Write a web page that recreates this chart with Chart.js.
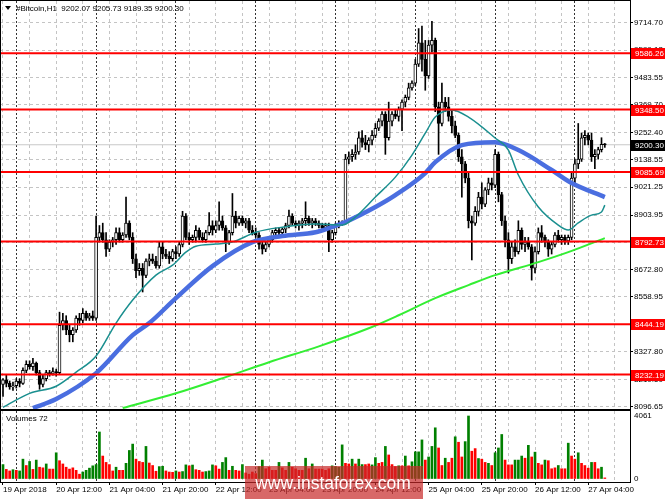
<!DOCTYPE html>
<html>
<head>
<meta charset="utf-8">
<script src="https://cdn.jsdelivr.net/npm/chart.js@4.4.0/dist/chart.umd.min.js"></script>
<style>
  html, body { margin: 0; padding: 0; background: #fff; }
  #wrap { position: relative; width: 665px; height: 499px; overflow: hidden; }
  canvas { position: absolute; left: 0; }
  #main { top: 0; }
  #vol { top: 410px; }
</style>
</head>
<body>
<div id="wrap">
  <canvas id="main" width="665" height="410"></canvas>
  <canvas id="vol" width="665" height="89"></canvas>
</div>
<script>
// H1 candles, 19 Apr 20:00 -> 27 Apr 09:00
const opens = [
  8190,8210,8195,8180,8185,8205,8195,8250,8275,8265, 8280,8240,8190,8215,8240,8235,8245,8240,8440,8460,
  8420,8400,8420,8470,8460,8490,8470,8480,8470,8810, 8830,8800,8760,8790,8800,8830,8800,8820,8870,8810,
  8720,8670,8680,8650,8710,8720,8710,8690,8770,8740, 8730,8720,8750,8740,8780,8900,8810,8800,8810,8840,
  8810,8800,8830,8860,8840,8860,8880,8850,8790,8830, 8900,8870,8890,8870,8880,8840,8830,8820,8780,8760,
  8780,8800,8830,8840,8830,8845,8860,8900,8870,8860, 8870,8880,8890,8870,8880,8870,8860,8850,8860,8800,
  8830,8860,8870,8875,9140,9150,9160,9170,9230,9210, 9200,9220,9240,9270,9300,9330,9230,9300,9330,9320,
  9350,9380,9400,9440,9460,9540,9630,9560,9490,9620, 9640,9360,9290,9380,9360,9320,9280,9240,9150,9120,
  9060,8880,8870,8920,8980,8950,9010,9040,9030,9160, 8990,8880,8800,8720,8770,8750,8840,8780,8790,8770,
  8680,8750,8830,8810,8790,8760,8780,8820,8800,8810, 8795,8810,9060,9120,9140,9230,9240,9220,9150,9160,
  9180,9202.07
];
const highs = [
  8215,8230,8205,8200,8215,8215,8260,8290,8290,8300, 8285,8250,8230,8250,8250,8260,8255,8495,8490,8480,
  8440,8430,8480,8490,8510,8500,8490,8500,8900,8860, 8870,8830,8800,8810,8850,8850,8830,8980,8880,8830,
  8740,8700,8700,8720,8740,8740,8730,8790,8790,8760, 8750,8760,8770,8790,8920,8910,8830,8820,8860,8850,
  8830,8840,8915,8880,8880,8960,8900,8860,8840,8995, 8920,8900,8900,8890,8890,8860,8850,8830,8800,8790,
  8810,8840,8850,8850,8850,8870,8925,8910,8880,8880, 8890,8960,8900,8890,8890,8880,8870,8870,8870,8840,
  8870,8880,8880,9160,9170,9180,9200,9255,9260,9240, 9230,9260,9290,9310,9340,9340,9380,9340,9350,9360,
  9390,9410,9460,9470,9560,9690,9700,9640,9640,9720, 9650,9380,9460,9400,9400,9350,9300,9250,9180,9130,
  9080,8900,8940,9000,9040,9020,9060,9060,9180,9170, 9000,8900,8830,8790,8800,8880,8850,8810,8810,8780,
  8770,8850,8860,8820,8800,8790,8830,8840,8820,8820, 8820,9080,9140,9290,9250,9260,9250,9250,9180,9190,
  9230,9205.73
];
const lows = [
  8140,8180,8170,8165,8175,8180,8190,8240,8255,8250, 8230,8170,8180,8205,8225,8230,8225,8235,8420,8400,
  8370,8370,8410,8440,8450,8460,8460,8460,8460,8790, 8790,8730,8750,8770,8780,8790,8790,8810,8800,8700,
  8640,8650,8580,8640,8690,8700,8680,8680,8720,8720, 8700,8710,8720,8730,8770,8800,8780,8790,8790,8800,
  8790,8790,8820,8820,8830,8840,8840,8750,8780,8820, 8850,8860,8860,8850,8830,8820,8810,8760,8740,8750,
  8770,8790,8820,8820,8820,8830,8850,8860,8850,8840, 8850,8860,8860,8850,8860,8850,8840,8840,8750,8790,
  8820,8850,8860,8865,9120,9130,9140,9160,9190,9180, 9170,9200,9230,9260,9280,9160,9220,9280,9310,9300,
  9260,9360,9390,9430,9450,9530,9510,9430,9480,9590, 9340,9160,9280,9340,9300,9250,9230,9130,8980,9040,
  8850,8715,8860,8900,8930,8940,8990,9010,9020,8960, 8860,8770,8660,8700,8730,8740,8760,8750,8760,8630,
  8660,8740,8790,8770,8730,8740,8770,8790,8780,8780, 8780,8800,9040,9100,9130,9200,9200,9130,9100,9140,
  9170,9189.35
];
const closes = [
  8210,8195,8180,8185,8205,8195,8250,8275,8265,8280, 8240,8190,8215,8240,8235,8245,8240,8440,8460,8420,
  8400,8420,8470,8460,8490,8470,8480,8470,8810,8830, 8800,8760,8790,8800,8830,8800,8820,8870,8810,8720,
  8670,8680,8650,8710,8720,8710,8690,8770,8740,8730, 8720,8750,8740,8780,8900,8810,8800,8810,8840,8810,
  8800,8830,8860,8840,8860,8880,8850,8790,8830,8900, 8870,8890,8870,8880,8840,8830,8820,8780,8760,8780,
  8800,8830,8840,8830,8845,8860,8900,8870,8860,8870, 8880,8890,8870,8880,8870,8860,8850,8860,8800,8830,
  8860,8870,8875,9140,9150,9160,9170,9230,9210,9200, 9220,9240,9270,9300,9330,9230,9300,9330,9320,9350,
  9380,9400,9440,9460,9540,9630,9560,9490,9620,9640, 9360,9290,9380,9360,9320,9280,9240,9150,9120,9060,
  8880,8870,8920,8980,8950,9010,9040,9030,9160,8990, 8880,8800,8720,8770,8750,8840,8780,8790,8770,8680,
  8750,8830,8810,8790,8760,8780,8820,8800,8810,8795, 8810,9060,9120,9140,9230,9240,9220,9150,9160,9180,
  9202.07,9200.30
];
const volumes = [
  930,620,520,600,560,520,1280,870,1130,620, 1220,760,720,970,640,640,1690,1180,970,760,
  640,720,560,310,450,560,700,850,930,3030, 1480,1070,930,520,760,560,560,1010,1840,2250,
  1280,1130,1070,2100,1030,870,500,800,820,520, 450,430,520,450,480,910,850,900,600,560,
  450,480,520,910,850,640,1070,1380,560,820, 560,520,930,390,310,450,350,800,1220,660,
  760,560,560,1070,720,560,1070,760,660,560, 560,1340,660,970,640,640,640,560,660,850,
  800,760,2200,1010,970,1280,970,1280,930,930, 970,910,1380,1010,1070,2100,1550,930,800,850,
  850,1480,850,1110,1750,1750,2520,1220,1420,2100, 3300,2000,870,1340,1070,1340,2720,2370,1420,2410,
  4061,1790,1960,1320,1280,1070,1010,870,1690,2000, 2870,1220,910,910,1220,1220,1480,1340,2170,1420,
  1730,1010,910,1220,1180,660,720,870,660,660, 2310,1480,1280,1690,1010,870,700,1070,1070,660,
  760,72
];
// g = volume up (green), r = volume down (red)
const volumeDir =
  'grrgrggrgr' + 'grrgrrgrrr' + 'rrrrgggggg' + 'rrrrgrrggg' + 'rrrgrrrggr' +
  'rrgrggrgrr' + 'rgggrrggrg' + 'rrgrrrrggr' + 'rrrgrrgrrr' + 'rgrgrrrrrg' +
  'gggrrgrggr' + 'rggrrgrrrg' + 'rgrggggrgg' + 'grrgrrgrrg' + 'grrgrrgrgg' +
  'grrrgggrgr' + 'grrgrrrgrr' + 'grrgrrrgrr' + 'gr';

// moving averages at sample bars
const maFastBars = [0,8,16,22,28,34,39,46,51,55,58,64,69,76,84,94,102,106,112,118,123,127,130,135,140,148,152,155,161,167,170,173,177,180,181];
const maFastVals = [8094,8153,8183,8242,8310,8449,8546,8651,8693,8748,8773,8782,8790,8832,8853,8866,8862,8896,8980,9064,9157,9249,9317,9347,9317,9229,9178,9073,8938,8862,8841,8871,8904,8917,8946];
const maMidBars = [9,16,28,39,44,52,63,75,84,94,98,103,112,118,127,130,138,148,155,165,171,181];
const maMidVals = [8091,8129,8238,8398,8449,8554,8689,8790,8816,8832,8849,8875,8938,8988,9081,9127,9199,9211,9178,9094,9039,8980];
const maSlowBars = [36,52,65,80,95,110,119,130,140,148,161,170,181];
const maSlowVals = [8091,8153,8212,8284,8351,8427,8482,8554,8609,8651,8706,8748,8807];

const levels = [9586.26, 9348.50, 9085.69, 8792.73, 8444.19, 8232.19];
const lastPrice = 9200.30;
const priceTicks = [9714.70, 9599.13, 9483.55, 9369.70, 9252.40, 9138.55, 9021.25, 8903.95, 8790.10, 8672.80, 8558.95, 8443.38, 8327.80, 8210.50, 8096.65];
const gridBars = [0,8,16,24,32,40,48,56,64,72,80,88,96,104,112,120,128,136,144,152,160,168,176,184];
const daySeparators = [4,28,52,76,100,124,148,172];
const dateTickBars = [0,16,32,48,64,80,96,112,128,144,160,176];
const dateTickLabels = ['19 Apr 2018','20 Apr 12:00','21 Apr 04:00','21 Apr 20:00','22 Apr 12:00','23 Apr 04:00',
  '23 Apr 20:00','24 Apr 12:00','25 Apr 04:00','25 Apr 20:00','26 Apr 12:00','27 Apr 04:00'];

const X_MIN = -0.902, X_MAX = 188.57;
const FONT = '"Liberation Sans", Arial, sans-serif';
Chart.defaults.font.family = FONT;
Chart.defaults.font.size = 8;
Chart.defaults.color = '#000';

const bars = closes.map((c, i) => i);

function gridAxis(ticksList, color, dash) {
  return {
    type: 'linear', min: X_MIN, max: X_MAX, position: 'bottom', offset: false,
    afterBuildTicks: s => { s.ticks = ticksList.map(v => ({ value: v })); },
    afterFit: s => { s.height = 0; s.paddingLeft = 0; s.paddingRight = 0; },
    ticks: { display: false },
    grid: { color: color, drawTicks: false, lineWidth: 1, offset: false },
    border: { display: false, dash: dash }
  };
}

function frame(chart) {
  const a = chart.chartArea, ctx = chart.ctx;
  ctx.save();
  ctx.strokeStyle = '#000';
  ctx.lineWidth = 1;
  ctx.strokeRect(a.left + 0.5, a.top - 0.5, a.right - a.left, a.bottom - a.top + 1);
  ctx.restore();
}

function priceTag(ctx, y, text, bg) {
  ctx.fillStyle = bg;
  ctx.fillRect(631, Math.round(y) - 5, 34, 11);
  ctx.fillStyle = '#fff';
  ctx.textBaseline = 'middle';
  ctx.textAlign = 'left';
  ctx.fillText(text, 635, Math.round(y) + 0.5);
}

const mainOverlay = {
  id: 'mainOverlay',
  afterDraw(chart) {
    const ctx = chart.ctx, y = chart.scales.y;
    frame(chart);
    ctx.save();
    ctx.font = '8px ' + FONT;
    levels.forEach(v => priceTag(ctx, y.getPixelForValue(v), v.toFixed(2), '#ff0000'));
    priceTag(ctx, y.getPixelForValue(lastPrice), lastPrice.toFixed(2), '#000000');
    // header
    ctx.fillStyle = '#000';
    ctx.beginPath();
    ctx.moveTo(5, 6); ctx.lineTo(11, 6); ctx.lineTo(8, 10); ctx.closePath();
    ctx.fill();
    ctx.textBaseline = 'middle';
    ctx.fillText('#Bitcoin,H1  9202.07 9205.73 9189.35 9200.30', 16, 8.5);
    ctx.restore();
  }
};

const levelSets = levels.map(v => ({
  type: 'line', data: [{ x: X_MIN, y: v }, { x: X_MAX, y: v }],
  borderColor: '#ff0000', borderWidth: 2, pointRadius: 0, order: 0
}));

new Chart(document.getElementById('main'), {
  type: 'bar',
  data: {
    datasets: [
      { type: 'line', data: [{ x: X_MIN, y: lastPrice }, { x: X_MAX, y: lastPrice }],
        borderColor: '#c8c8c8', borderWidth: 1, pointRadius: 0, order: 10 },
      { data: bars.map(i => ({ x: i, y: [lows[i], highs[i]] })),
        backgroundColor: '#000', barThickness: 1, grouped: false, minBarLength: 1, order: 6 },
      { data: bars.map(i => ({ x: i, y: [opens[i], closes[i]] })),
        backgroundColor: bars.map(i => closes[i] >= opens[i] ? '#ffffff' : '#000000'),
        borderColor: '#000', borderWidth: 1, borderSkipped: false,
        barThickness: 3, grouped: false, minBarLength: 1, order: 5 },
      { type: 'line', data: maSlowBars.map((b, k) => ({ x: b, y: maSlowVals[k] })),
        borderColor: '#33ee33', borderWidth: 2, pointRadius: 0, cubicInterpolationMode: 'monotone', order: 3 },
      { type: 'line', data: maMidBars.map((b, k) => ({ x: b, y: maMidVals[k] })),
        borderColor: '#4a6ee0', borderWidth: 4.5, pointRadius: 0, cubicInterpolationMode: 'monotone', order: 2 },
      { type: 'line', data: maFastBars.map((b, k) => ({ x: b, y: maFastVals[k] })),
        borderColor: '#1a8f8f', borderWidth: 1.5, pointRadius: 0, cubicInterpolationMode: 'monotone', order: 1 },
      ...levelSets
    ]
  },
  options: {
    responsive: false, animation: false, events: [],
    layout: { padding: { top: 1, bottom: 1, left: 0, right: 0 } },
    plugins: { legend: { display: false }, tooltip: { enabled: false } },
    scales: {
      x: gridAxis(gridBars, '#c4c4c4', [3, 3]),
      xs: gridAxis(daySeparators, '#333333', [2, 2]),
      y: {
        position: 'right', min: 8086.94, max: 9806.14,
        afterBuildTicks: s => { s.ticks = priceTicks.map(v => ({ value: v })); },
        afterFit: s => { s.width = 35; s.paddingTop = 0; s.paddingBottom = 0; },
        ticks: { callback: v => v.toFixed(2), padding: 1, autoSkip: false, font: { size: 8 } },
        grid: { color: '#c4c4c4', tickLength: 3, tickColor: '#000' },
        border: { display: true, color: '#000', dash: [3, 3] }
      }
    }
  },
  plugins: [mainOverlay]
});

const volOverlay = {
  id: 'volOverlay',
  afterDraw(chart) {
    const ctx = chart.ctx;
    frame(chart);
    ctx.save();
    ctx.font = '8px ' + FONT;
    ctx.fillStyle = '#000';
    ctx.textBaseline = 'middle';
    ctx.fillText('Volumes 72', 6, 9);
    // watermark
    ctx.fillStyle = 'rgba(200,40,40,0.7)';
    ctx.fillRect(245, 56, 178, 33);
    ctx.fillStyle = '#fff';
    ctx.font = '17.5px ' + FONT;
    ctx.textAlign = 'center';
    ctx.fillText('www.instaforex.com', 333, 74);
    ctx.restore();
  }
};

new Chart(document.getElementById('vol'), {
  type: 'bar',
  data: {
    datasets: [{
      data: volumes.map((v, i) => ({ x: i, y: v })),
      backgroundColor: volumes.map((v, i) => volumeDir[i] === 'g' ? '#008000' : '#ff0000'),
      barThickness: 2, grouped: false
    }]
  },
  options: {
    responsive: false, animation: false, events: [],
    layout: { padding: { top: 1, bottom: 0, left: 0, right: 0 } },
    plugins: { legend: { display: false }, tooltip: { enabled: false } },
    scales: {
      x: {
        type: 'linear', min: X_MIN, max: X_MAX, position: 'bottom', offset: false,
        afterBuildTicks: s => { s.ticks = dateTickBars.map(v => ({ value: v })); },
        afterFit: s => { s.height = 17; s.paddingLeft = 0; s.paddingRight = 0; },
        ticks: { callback: (v, i) => dateTickLabels[i], align: 'start', maxRotation: 0, autoSkip: false, padding: 0 },
        grid: { drawOnChartArea: false, tickLength: 3, tickColor: '#000', offset: false },
        border: { display: false }
      },
      xg: gridAxis(gridBars, '#c4c4c4', [3, 3]),
      xs: gridAxis(daySeparators, '#333333', [2, 2]),
      y: {
        position: 'right', min: -193, max: 4383,
        afterBuildTicks: s => { s.ticks = [0, 4061].map(v => ({ value: v })); },
        afterFit: s => { s.width = 35; s.paddingTop = 0; s.paddingBottom = 0; },
        ticks: { callback: v => String(v), padding: 1, autoSkip: false },
        grid: { drawOnChartArea: false, tickLength: 3, tickColor: 'rgba(0,0,0,0)' },
        border: { display: true, color: '#000' }
      }
    }
  },
  plugins: [volOverlay]
});
</script>
</body>
</html>
